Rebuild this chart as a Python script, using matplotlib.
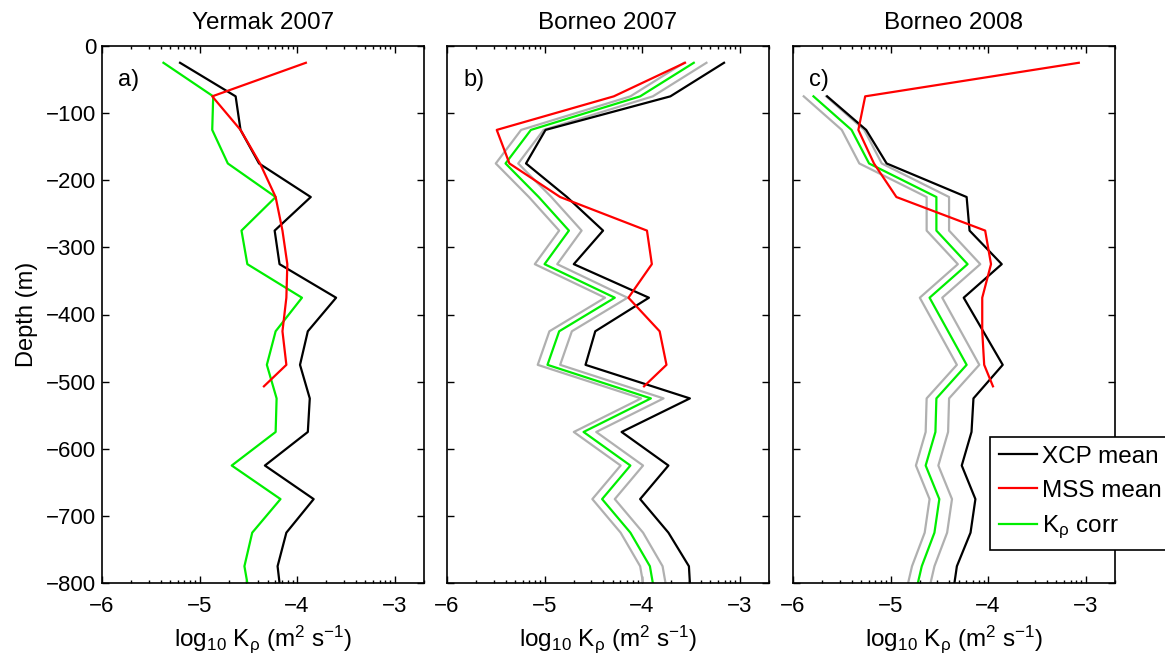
import numpy as np
import matplotlib
matplotlib.use('Agg')
import matplotlib.pyplot as plt
from matplotlib.ticker import NullFormatter, LogLocator

plt.rcParams['font.family'] = ['Liberation Sans', 'DejaVu Sans']
plt.rcParams['font.size'] = 16
plt.rcParams['mathtext.fontset'] = 'custom'
plt.rcParams['mathtext.rm'] = 'Liberation Sans'
plt.rcParams['mathtext.it'] = 'Liberation Sans'

# depth of bin centres (m); last bin lies just below the plotted range
depth = [25, 75, 125, 175, 225, 275, 325, 375, 425, 475, 525, 575, 625, 675, 725, 775, 825]
depth_c = depth[1:]
depth_mss = [25, 75, 125, 175, 225, 275, 325, 375, 425, 475, 507]

# log10 K_rho (m^2 s^-1)
xcp_a = [-5.20, -4.63, -4.58, -4.39, -3.86, -4.23, -4.18, -3.60, -3.89, -3.97, -3.87, -3.89, -4.33, -3.83, -4.11, -4.20, -4.16]
corr_a = [-5.37, -4.86, -4.87, -4.71, -4.22, -4.57, -4.51, -3.95, -4.22, -4.31, -4.21, -4.22, -4.67, -4.17, -4.46, -4.54, -4.48]
mss_a = [-3.91, -4.87, -4.58, -4.38, -4.22, -4.15, -4.10, -4.11, -4.15, -4.11, -4.34]

xcp_b = [-3.16, -3.71, -4.99, -5.19, -4.77, -4.40, -4.70, -3.93, -4.48, -4.58, -3.51, -4.21, -3.73, -4.02, -3.73, -3.52, -3.50]
corr_b = [-3.47, -4.02, -5.14, -5.40, -5.06, -4.75, -5.00, -4.28, -4.85, -4.97, -3.91, -4.60, -4.12, -4.41, -4.12, -3.92, -3.86]
lo_b = [-3.57, -4.12, -5.24, -5.50, -5.16, -4.85, -5.10, -4.38, -4.95, -5.07, -4.01, -4.70, -4.22, -4.51, -4.22, -4.02, -3.96]
hi_b = [-3.34, -3.89, -5.01, -5.27, -4.93, -4.62, -4.87, -4.15, -4.72, -4.84, -3.78, -4.47, -3.99, -4.28, -3.99, -3.79, -3.73]
mss_b = [-3.56, -4.29, -5.49, -5.36, -4.84, -3.95, -3.90, -4.14, -3.82, -3.75, -3.98]

xcp_c = [-5.65, -5.25, -5.04, -4.22, -4.19, -3.86, -4.25, -4.05, -3.85, -4.15, -4.17, -4.27, -4.13, -4.18, -4.32, -4.37]
corr_c = [-5.79, -5.40, -5.22, -4.53, -4.53, -4.21, -4.60, -4.41, -4.22, -4.53, -4.54, -4.64, -4.50, -4.55, -4.68, -4.76]
lo_c = [-5.89, -5.50, -5.32, -4.63, -4.63, -4.31, -4.70, -4.51, -4.32, -4.63, -4.64, -4.74, -4.60, -4.65, -4.78, -4.86]
hi_c = [-5.66, -5.27, -5.09, -4.40, -4.40, -4.08, -4.47, -4.28, -4.09, -4.40, -4.41, -4.51, -4.37, -4.42, -4.55, -4.63]
mss_c = [-3.07, -5.26, -5.33, -5.17, -4.94, -4.03, -3.97, -4.06, -4.06, -4.04, -3.95]

titles = ['Yermak 2007', 'Borneo 2007', 'Borneo 2008']
tags = ['a)', 'b)', 'c)']
xtick_labels = ['\u22126', '\u22125', '\u22124', '\u22123']

GREEN = '#00ee00'
GRAY = '#b0b0b0'


def k(v):
    return 10.0 ** np.array(v)


def neg(d):
    return -np.array(d)


fig = plt.figure(figsize=(11.65, 6.6), dpi=100)
W, H = 1165.0, 660.0
lefts = [102, 447, 793]
axes = [fig.add_axes([l / W, 77 / H, 322 / W, 537 / H]) for l in lefts]

panels = [
    (depth, xcp_a, corr_a, None, None, mss_a),
    (depth, xcp_b, corr_b, lo_b, hi_b, mss_b),
    (depth_c, xcp_c, corr_c, lo_c, hi_c, mss_c),
]

for i, (ax, (d, xcp, corr, lo, hi, mss)) in enumerate(zip(axes, panels)):
    if lo is not None:
        ax.plot(k(lo), neg(d), color=GRAY, lw=1.6)
        ax.plot(k(hi), neg(d), color=GRAY, lw=1.6)
    l1, = ax.plot(k(xcp), neg(d), color='k', lw=1.6)
    l3, = ax.plot(k(corr), neg(d), color=GREEN, lw=1.6)
    l2, = ax.plot(k(mss), neg(depth_mss), color='r', lw=1.6)

    ax.set_xscale('log')
    ax.set_xlim(1e-6, 2e-3)
    ax.set_ylim(-800, 0)
    ax.set_xticks([1e-6, 1e-5, 1e-4, 1e-3])
    ax.set_xticklabels(xtick_labels)
    ax.xaxis.set_minor_locator(LogLocator(base=10, subs=np.arange(2, 10)))
    ax.xaxis.set_minor_formatter(NullFormatter())
    ax.set_yticks(np.arange(-800, 1, 100))
    if i == 0:
        ax.set_ylabel('Depth (m)', fontsize=17, labelpad=6)
    else:
        ax.set_yticklabels([])
    ax.tick_params(which='both', direction='in', top=True, right=True, width=1)
    ax.tick_params(which='major', length=5)
    ax.tick_params(axis='x', which='major', pad=9)
    ax.tick_params(axis='y', which='major', pad=4)
    ax.tick_params(which='minor', length=2.5)
    for s in ax.spines.values():
        s.set_linewidth(1.2)
    ax.set_title(titles[i], fontsize=17.5, pad=12)
    ax.set_xlabel(r'log$_{10}$ K$_\rho$ (m$^2$ s$^{-1}$)', fontsize=17.5, labelpad=5)
    ax.text(0.05, 0.958, tags[i], transform=ax.transAxes, ha='left', va='top', fontsize=17)

leg = fig.legend([l1, l2, l3], ['XCP mean', 'MSS mean', r'K$_\rho$ corr'],
                 loc='upper left', bbox_to_anchor=(990 / W, 1 - 437 / H),
                 fancybox=False, framealpha=1, edgecolor='k', fontsize=17.5,
                 borderaxespad=0, handlelength=1.6, handletextpad=0.2,
                 borderpad=0.35, labelspacing=0.5)
leg.get_frame().set_linewidth(1.2)

fig.savefig('out.png', dpi=100)
